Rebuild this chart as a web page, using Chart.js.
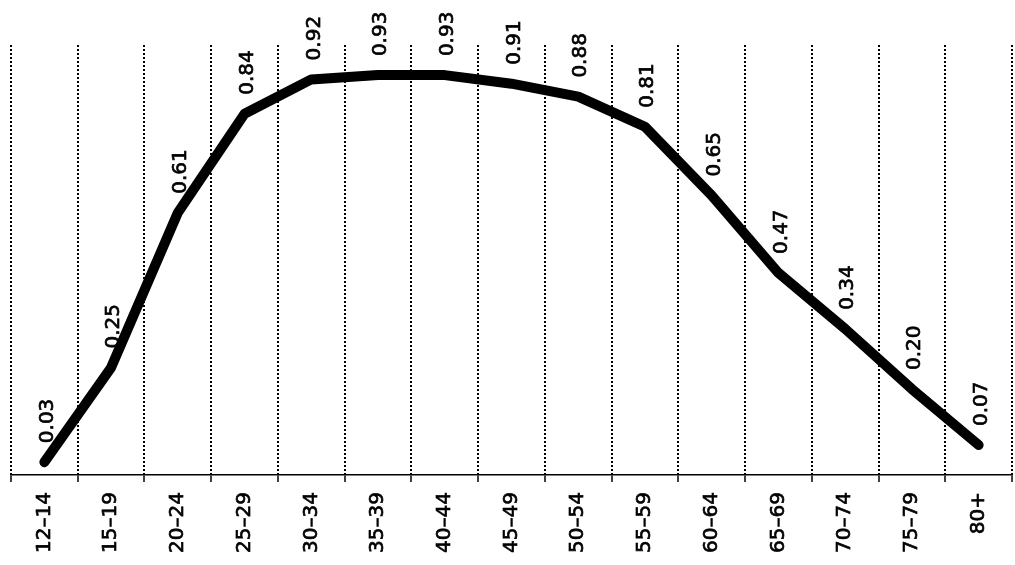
<!DOCTYPE html>
<html>
<head>
<meta charset="utf-8">
<script src="https://cdn.jsdelivr.net/npm/chart.js@4/dist/chart.umd.min.js"></script>
<style>
    html, body { margin: 0; padding: 0; background: #fff; }
    #wrap { width: 1015px; height: 565px; }
</style>
</head>
<body>
<div id="wrap"><canvas id="myChart"></canvas></div>
<script>
const ageGroups = ["12–14", "15–19", "20–24", "25–29", "30–34", "35–39", "40–44", "45–49",
    "50–54", "55–59", "60–64", "65–69", "70–74", "75–79", "80+"];
const shares = [0.03, 0.25, 0.61, 0.84, 0.92, 0.93, 0.93, 0.91, 0.88, 0.81, 0.65, 0.47, 0.34, 0.20, 0.07];

const fontFamily = '"DejaVu Sans", Verdana, sans-serif';

// rotated value labels above each point
const valueLabels = {
    id: "valueLabels",
    afterDatasetsDraw(chart)
    {
        const ctx = chart.ctx;
        const meta = chart.getDatasetMeta(0);
        ctx.save();
        ctx.fillStyle = "#000";
        ctx.strokeStyle = "#000";
        ctx.lineWidth = 0.7;
        ctx.font = "20px " + fontFamily;
        ctx.textAlign = "left";
        ctx.textBaseline = "middle";
        meta.data.forEach((pt, i) => {
            ctx.save();
            ctx.translate(pt.x + 3, pt.y - 19);
            ctx.rotate(-Math.PI / 2);
            ctx.fillText(shares[i].toFixed(2), 0, 0);
            ctx.strokeText(shares[i].toFixed(2), 0, 0);
            ctx.restore();
        });
        ctx.restore();
    }
};

const ctx = document.getElementById("myChart").getContext("2d");
let myChart = new Chart(ctx, {
    type: "line",
    data: {
        labels: ageGroups,
        datasets: [{
            data: shares,
            borderColor: "#000",
            borderWidth: 10,
            borderCapStyle: "round",
            borderJoinStyle: "round",
            pointRadius: 0,
            tension: 0,
            fill: false
        }]
    },
    options: {
        animation: false,
        responsive: true,
        maintainAspectRatio: false,
        layout: { padding: { left: 11, right: 3, top: 45, bottom: 2 } },
        plugins: {
            legend: { display: false },
            tooltip: { enabled: false }
        },
        scales: {
            x: {
                offset: true,
                grid: {
                    offset: true,
                    color: "#000",
                    lineWidth: 2,
                    tickLength: 7,
                    tickColor: "#000",
                    tickWidth: 1.5
                },
                border: { display: true, color: "#000", width: 1.5, dash: [2, 2] },
                ticks: {
                    color: "#000",
                    font: { size: 20, family: fontFamily },
                    textStrokeColor: "#000",
                    textStrokeWidth: 0.7,
                    minRotation: 90,
                    maxRotation: 90,
                    padding: 10,
                    autoSkip: false
                }
            },
            y: {
                display: false,
                min: 0,
                max: 1
            }
        }
    },
    plugins: [valueLabels]
});
</script>
</body>
</html>
